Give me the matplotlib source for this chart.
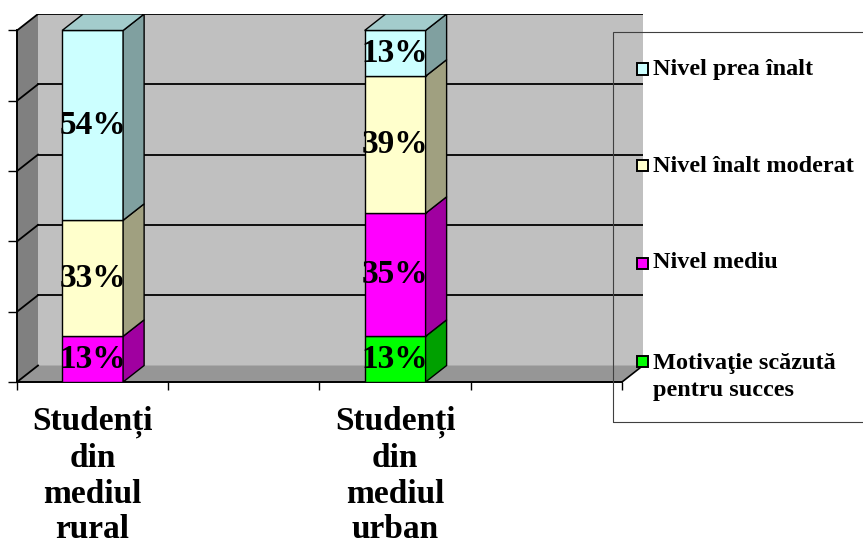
import matplotlib.pyplot as plt
from matplotlib.patches import Polygon, Rectangle

plt.rcParams['font.family'] = ['Liberation Serif', 'DejaVu Serif']
plt.rcParams['font.weight'] = 'bold'

# date: procente pe nivel de motivatie, pentru fiecare mediu
categories = ['Studenți\ndin\nmediul\nrural', 'Studenți\ndin\nmediul\nurban']
positions = [0.5, 2.5]          # 4 sloturi pe axa x, coloanele stau in 1 si 3
n_slots = 4
series = ['Motivaţie scăzută\npentru succes', 'Nivel mediu',
          'Nivel înalt moderat', 'Nivel prea înalt']
rural = [0, 13, 33, 54]
urban = [13, 35, 39, 13]
y_ticks = [0, 20, 40, 60, 80, 100]

face_colors = ['#00FF00', '#FF00FF', '#FFFFCC', '#CCFFFF']
side_colors = ['#00A000', '#A000A0', '#A0A080', '#80A0A0']
top_colors = ['#00CC00', '#CC00CC', '#CCCCA3', '#A3CCCC']

W, H = 863, 539
fig = plt.figure(figsize=(W / 100, H / 100), dpi=100)
ax = fig.add_axes([17 / W, (H - 382) / H, (643 - 17) / W, (382 - 14) / H])

# adancimea 3D (in unitati de date)
dx, dy = 0.139, 4.69
ymax = 100
ax.set_xlim(0, n_slots + dx)
ax.set_ylim(0, ymax + dy)

# peretii
ax.add_patch(Polygon([(0, 0), (dx, dy), (dx, ymax + dy), (0, ymax)],
                     closed=True, facecolor='#808080', edgecolor='none', zorder=1))
ax.add_patch(Rectangle((dx, dy), n_slots, ymax, facecolor='#C0C0C0',
                       edgecolor='none', zorder=1))
ax.add_patch(Polygon([(0, 0), (n_slots, 0), (n_slots + dx, dy), (dx, dy)],
                     closed=True, facecolor='#969696', edgecolor='none', zorder=1.2))

# liniile de grila
for v in y_ticks:
    ax.plot([0, dx], [v, v + dy], color='black', lw=1.3, zorder=1.5)
    if v > 0:
        ax.plot([dx, n_slots + dx], [v + dy, v + dy], color='black', lw=1.3, zorder=1.1)
ax.plot([n_slots, n_slots + dx], [0, dy], color='black', lw=1.2, zorder=1.5)

# coloanele stivuite
w = 0.403
z = 3
for c, vals in zip(positions, [rural, urban]):
    bottom = 0
    last = max(i for i, v in enumerate(vals) if v > 0)
    for i, v in enumerate(vals):
        if v == 0:
            continue
        x1, x2 = c - w / 2, c + w / 2
        top = bottom + v
        ax.add_patch(Rectangle((x1, bottom), w, v, facecolor=face_colors[i],
                               edgecolor='black', lw=1.0, zorder=z))
        ax.add_patch(Polygon([(x2, bottom), (x2 + dx, bottom + dy),
                              (x2 + dx, top + dy), (x2, top)], closed=True,
                             facecolor=side_colors[i], edgecolor='black', lw=1.0, zorder=z))
        if i == last:
            ax.add_patch(Polygon([(x1, top), (x2, top), (x2 + dx, top + dy),
                                  (x1 + dx, top + dy)], closed=True,
                                 facecolor=top_colors[i], edgecolor='black', lw=1.0, zorder=z))
        ax.text(c, bottom + v / 2, f'{v}%', ha='center', va='center',
                fontsize=24, fontweight='bold', zorder=z + 1)
        bottom = top
        z += 0.1

# axe
for s in ['top', 'right']:
    ax.spines[s].set_visible(False)
ax.spines['left'].set_bounds(0, ymax)
ax.spines['bottom'].set_bounds(0, n_slots)
ax.spines['left'].set_linewidth(1.4)
ax.spines['bottom'].set_linewidth(1.4)
ax.set_facecolor('none')
ax.set_yticks(y_ticks, labels=[])
ax.set_xticks(range(n_slots + 1), labels=[])
ax.tick_params(axis='y', direction='out', length=6.5, width=1.0)
ax.tick_params(axis='x', which='major', direction='out', length=6, width=1.0)
ax.set_xticks(positions, labels=categories, minor=True)
ax.tick_params(axis='x', which='minor', length=0, pad=17, labelsize=24)
for lab in ax.get_xticklabels(minor=True):
    lab.set_linespacing(1.2)
    lab.set_fontweight('bold')

# legenda
def fx(px):
    return px / W

def fy(py):
    return 1 - py / H

fig.add_artist(Rectangle((fx(613), fy(422)), fx(900) - fx(613), fy(32) - fy(422),
                         transform=fig.transFigure, fill=False,
                         edgecolor='#404040', lw=0.8))
leg_y = [69, 166, 263, 361]
for py, name, col in zip(leg_y, series[::-1], face_colors[::-1]):
    fig.add_artist(Rectangle((fx(636.5), fy(py + 5.5)), fx(11), 11 / H,
                             transform=fig.transFigure, facecolor=col,
                             edgecolor='black', lw=1.4))
    if '\n' in name:
        fig.text(fx(653), fy(py - 8), name, ha='left', va='top', fontsize=17.5,
                 fontweight='bold', linespacing=1.38)
    else:
        fig.text(fx(653), fy(py), name, ha='left', va='center', fontsize=17.5,
                 fontweight='bold')

fig.savefig('out.png', dpi=100)
